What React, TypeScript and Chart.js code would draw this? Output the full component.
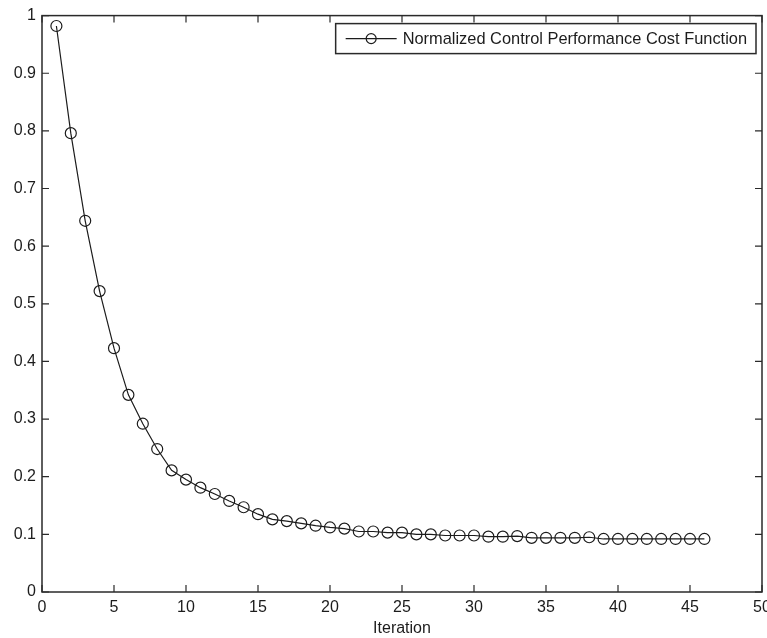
import React, { useEffect, useRef } from "react";
import { Chart, registerables } from "chart.js";

Chart.register(...registerables);

// ---- data ----
const iterations = [
  1, 2, 3, 4, 5, 6, 7, 8, 9, 10, 11, 12, 13, 14, 15, 16, 17, 18, 19, 20, 21, 22, 23,
  24, 25, 26, 27, 28, 29, 30, 31, 32, 33, 34, 35, 36, 37, 38, 39, 40, 41, 42, 43, 44, 45, 46,
];
const costValues = [
  0.982, 0.796, 0.644, 0.522, 0.423, 0.342, 0.292, 0.248, 0.211, 0.195, 0.181, 0.17,
  0.158, 0.147, 0.135, 0.126, 0.123, 0.119, 0.115, 0.112, 0.11, 0.105, 0.105, 0.103,
  0.103, 0.1, 0.1, 0.098, 0.098, 0.098, 0.096, 0.096, 0.097, 0.094, 0.094, 0.094, 0.094,
  0.095, 0.092, 0.092, 0.092, 0.092, 0.092, 0.092, 0.092, 0.092,
];
const xTicks = [0, 5, 10, 15, 20, 25, 30, 35, 40, 45, 50];
const yTicks = [0, 0.1, 0.2, 0.3, 0.4, 0.5, 0.6, 0.7, 0.8, 0.9, 1];
const seriesLabel = "Normalized Control Performance Cost Function";
const xTitle = "Iteration";

// ---- style ----
const VIEW_W = 767;
const VIEW_H = 638;
const CANVAS_W = 800;
const FONT = "Arial, 'Liberation Sans', Helvetica, sans-serif";
const INK = "#1c1c1c";
const AXIS = "#2a2a2a";
const TICK_LEN = 7;

const framePlugin = {
  id: "matlabFrame",
  afterDatasetsDraw(chart: any) {
    const { ctx, chartArea: a, scales } = chart;
    const xs = scales.x;
    const ys = scales.y;
    ctx.save();
    ctx.strokeStyle = AXIS;
    ctx.lineWidth = 1.5;
    ctx.strokeRect(a.left, a.top, a.right - a.left, a.bottom - a.top);
    ctx.lineWidth = 1.2;
    ctx.beginPath();
    for (const v of xTicks) {
      const px = xs.getPixelForValue(v);
      ctx.moveTo(px, a.bottom);
      ctx.lineTo(px, a.bottom - TICK_LEN);
      ctx.moveTo(px, a.top);
      ctx.lineTo(px, a.top + TICK_LEN);
    }
    for (const v of yTicks) {
      const py = ys.getPixelForValue(v);
      ctx.moveTo(a.left, py);
      ctx.lineTo(a.left + TICK_LEN, py);
      ctx.moveTo(a.right, py);
      ctx.lineTo(a.right - TICK_LEN, py);
    }
    ctx.stroke();

    // legend box (top-right, inside axes)
    ctx.font = `16.4px ${FONT}`;
    const textW = ctx.measureText(seriesLabel).width;
    const sampleW = 51;
    const padL = 10;
    const gap = 6;
    const padR = 9;
    const boxW = padL + sampleW + gap + textW + padR;
    const boxH = 30;
    const boxRight = a.right - 6;
    const boxLeft = boxRight - boxW;
    const boxTop = a.top + 8;
    ctx.fillStyle = "#ffffff";
    ctx.fillRect(boxLeft, boxTop, boxW, boxH);
    ctx.strokeStyle = AXIS;
    ctx.lineWidth = 1.5;
    ctx.strokeRect(boxLeft, boxTop, boxW, boxH);
    const cy = boxTop + boxH / 2;
    ctx.strokeStyle = INK;
    ctx.lineWidth = 1.2;
    ctx.beginPath();
    ctx.moveTo(boxLeft + padL, cy);
    ctx.lineTo(boxLeft + padL + sampleW, cy);
    ctx.stroke();
    ctx.beginPath();
    ctx.arc(boxLeft + padL + sampleW / 2, cy, 5, 0, Math.PI * 2);
    ctx.stroke();
    ctx.fillStyle = INK;
    ctx.textBaseline = "middle";
    ctx.textAlign = "left";
    ctx.fillText(seriesLabel, boxLeft + padL + sampleW + gap, cy + 1);
    ctx.restore();
  },
};

export default function App() {
  const canvasRef = useRef<HTMLCanvasElement | null>(null);

  useEffect(() => {
    const canvas = canvasRef.current;
    if (!canvas) return;
    const chart = new Chart(canvas, {
      type: "line",
      data: {
        datasets: [
          {
            label: seriesLabel,
            data: iterations.map((x, i) => ({ x, y: costValues[i] })),
            borderColor: INK,
            borderWidth: 1.2,
            backgroundColor: "rgba(0,0,0,0)",
            pointRadius: 5.5,
            pointBorderWidth: 1.2,
            pointBorderColor: INK,
            pointBackgroundColor: "rgba(0,0,0,0)",
            pointStyle: "circle",
            tension: 0,
            fill: false,
          },
        ],
      },
      options: {
        responsive: false,
        animation: false,
        events: [],
        layout: { padding: { top: 14, right: CANVAS_W - 762, left: 0, bottom: 0 } },
        plugins: {
          legend: { display: false },
          tooltip: { enabled: false },
          title: { display: false },
        },
        scales: {
          x: {
            type: "linear",
            min: 0,
            max: 50,
            afterBuildTicks: (s: any) => {
              s.ticks = xTicks.map((v) => ({ value: v }));
            },
            afterFit: (s: any) => {
              s.height = 46;
            },
            grid: { display: false, drawTicks: false },
            border: { display: false },
            ticks: {
              padding: 6,
              color: INK,
              font: { family: FONT, size: 16 },
              maxRotation: 0,
              autoSkip: false,
              callback: (v: any) => String(v),
            },
            title: {
              display: true,
              text: xTitle,
              color: INK,
              font: { family: FONT, size: 16 },
              padding: { top: 0, bottom: 0 },
            },
          },
          y: {
            type: "linear",
            min: 0,
            max: 1,
            afterBuildTicks: (s: any) => {
              s.ticks = yTicks.map((v) => ({ value: v }));
            },
            afterFit: (s: any) => {
              s.width = 42;
            },
            grid: { display: false, drawTicks: false },
            border: { display: false },
            ticks: {
              padding: 6,
              color: INK,
              font: { family: FONT, size: 16 },
              autoSkip: false,
              callback: (v: any) => String(v),
            },
          },
        },
      },
      plugins: [framePlugin],
    });
    return () => chart.destroy();
  }, []);

  return (
    <div
      style={{
        position: "fixed",
        left: 0,
        top: 0,
        width: VIEW_W,
        height: VIEW_H,
        overflow: "hidden",
        background: "#ffffff",
      }}
    >
      <canvas ref={canvasRef} width={CANVAS_W} height={VIEW_H} style={{ display: "block" }} />
    </div>
  );
}
